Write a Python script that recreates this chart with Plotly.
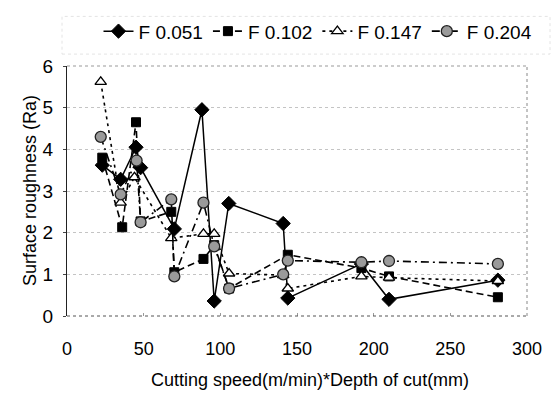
import plotly.graph_objects as go

# ---- data ----
x_f051 = [23, 35, 45, 48, 70, 88, 96, 105.5, 141, 144, 192, 210, 281]
y_f051 = [3.62, 3.28, 4.05, 3.56, 2.09, 4.95, 0.36, 2.7, 2.22, 0.43, 1.25, 0.4, 0.86]

x_f102 = [23, 36, 45, 48, 68, 70, 89, 96, 105.7, 144, 192, 210, 281]
y_f102 = [3.8, 2.13, 4.65, 2.27, 2.5, 1.05, 1.37, 1.7, 0.66, 1.47, 1.15, 0.95, 0.45]

x_f147 = [22, 35, 44, 68, 89, 96, 105.7, 141, 144, 192, 210, 281]
y_f147 = [5.62, 2.72, 3.33, 1.87, 1.97, 1.97, 1.02, 0.98, 0.66, 0.95, 0.92, 0.84]

x_f204 = [22, 35, 45.4, 48, 68, 70, 89, 96, 105.7, 141, 144, 192, 210, 281]
y_f204 = [4.3, 2.92, 3.73, 2.25, 2.8, 0.95, 2.72, 1.67, 0.66, 1.0, 1.33, 1.29, 1.32, 1.25]

series_names = ["F 0.051", "F 0.102", "F 0.147", "F 0.204"]
x_ticks = [0, 50, 100, 150, 200, 250, 300]
y_ticks = [0, 1, 2, 3, 4, 5, 6]

FONT = "Liberation Sans, Arial, sans-serif"

fig = go.Figure()
fig.add_trace(go.Scatter(
    x=x_f051, y=y_f051, name=series_names[0], mode="lines+markers",
    line=dict(color="black", width=1.5),
    marker=dict(symbol="diamond", size=11, color="black", line=dict(color="black", width=1))))
fig.add_trace(go.Scatter(
    x=x_f102, y=y_f102, name=series_names[1], mode="lines+markers",
    line=dict(color="black", width=1.6, dash="7px,4px"),
    marker=dict(symbol="square", size=9, color="black", line=dict(color="black", width=1))))
fig.add_trace(go.Scatter(
    x=x_f147, y=y_f147, name=series_names[2], mode="lines+markers",
    line=dict(color="black", width=1.6, dash="3px,4px"),
    marker=dict(symbol="triangle-up", size=10, color="white", line=dict(color="black", width=1.3))))
fig.add_trace(go.Scatter(
    x=x_f204, y=y_f204, name=series_names[3], mode="lines+markers",
    line=dict(color="black", width=1.6, dash="8px,4px,2px,4px"),
    marker=dict(symbol="circle", size=11, color="#9a9a9a", line=dict(color="#222222", width=1.3))))

L, R, T, B = 67, 29, 64, 91
W, H = 556, 407
pw = W - L - R
ph = H - T - B

fig.update_layout(
    width=W, height=H,
    margin=dict(l=L, r=R, t=T, b=B),
    paper_bgcolor="white", plot_bgcolor="white",
    font=dict(family=FONT, color="black", size=18),
    showlegend=True,
    legend=dict(orientation="h", x=(318 - L) / pw, xanchor="center",
                y=1 + (T - 29) / ph, yanchor="middle",
                font=dict(size=19, family=FONT), itemwidth=30,
                bgcolor="rgba(0,0,0,0)", tracegroupgap=0),
    xaxis=dict(range=[0, 300], tickvals=x_ticks, ticktext=[str(v) for v in x_ticks],
               showgrid=False, zeroline=False,
               showline=False,
               ticks="inside", ticklen=3, tickcolor="#999999",
               tickfont=dict(size=18, family=FONT), ticklabelstandoff=20),
    yaxis=dict(range=[0, 6], tickvals=y_ticks, ticktext=[str(v) for v in y_ticks],
               showgrid=True, gridcolor="#c4c4c4", griddash="dot", gridwidth=1,
               zeroline=False,
               showline=True, linecolor="#222222", linewidth=1,
               ticks="outside", ticklen=3, tickcolor="#444444",
               tickfont=dict(size=19, family=FONT), ticklabelstandoff=6),
    shapes=[
        # dotted top, right and bottom borders of the plot area
        dict(type="line", xref="paper", yref="paper", x0=0, x1=1, y0=1, y1=1,
             line=dict(color="#999999", width=1, dash="dot")),
        dict(type="line", xref="paper", yref="paper", x0=1, x1=1, y0=0, y1=1,
             line=dict(color="#888888", width=1, dash="dot")),
        dict(type="line", xref="paper", yref="paper", x0=0, x1=1, y0=0, y1=0,
             line=dict(color="#555555", width=1, dash="dot")),
        # faint legend frame
        dict(type="rect", xref="paper", yref="paper",
             x0=(62 - L) / pw, x1=(550 - L) / pw,
             y0=1 + (T - 52) / ph, y1=1 + (T - 14) / ph,
             line=dict(color="#e4e4e4", width=1, dash="dot")),
    ],
    annotations=[
        dict(text="Surface roughness (Ra)", xref="paper", yref="paper",
             x=(30 - L) / pw, y=0.5, xanchor="center", yanchor="middle",
             textangle=-90, showarrow=False, font=dict(size=18, family=FONT)),
        dict(text="Cutting speed(m/min)*Depth of cut(mm)", xref="paper", yref="paper",
             x=(310 - L) / pw, y=-(381 - (H - B)) / ph, xanchor="center", yanchor="middle",
             showarrow=False, font=dict(size=18, family=FONT)),
    ],
)

fig.write_html("out.html")
